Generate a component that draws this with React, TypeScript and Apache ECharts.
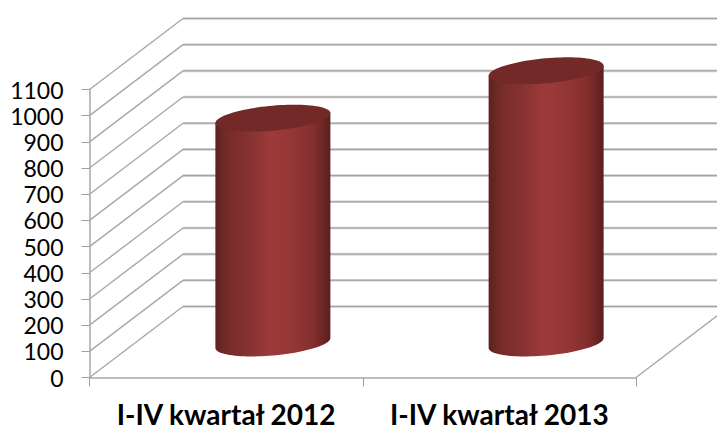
import React, { useEffect, useRef } from "react";
import * as echarts from "echarts";

const categories = ["I-IV kwartał 2012", "I-IV kwartał 2013"];
const values = [855, 1036];
const gridTicks = [0, 100, 200, 300, 400, 500, 600, 700, 800, 900, 1000, 1100];

const DEPTH_X = 93.5;
const DEPTH_Y = -71;
const RADIUS_X = 57.5;
const TILT = 5;
const RADIUS_Y = 12.5;

const ellipseArc = (cx: number, cy: number, from: number, to: number, steps = 48) => {
  const pts: number[][] = [];
  for (let i = 0; i <= steps; i++) {
    const t = from + ((to - from) * i) / steps;
    pts.push([cx + RADIUS_X * Math.cos(t), cy - TILT * Math.cos(t) + RADIUS_Y * Math.sin(t)]);
  }
  return pts;
};

export default function App() {
  const ref = useRef<HTMLDivElement>(null);
  useEffect(() => {
    document.body.style.margin = "0";
    const chart = echarts.init(ref.current!, null, { renderer: "svg" });
    chart.setOption({
      animation: false,
      backgroundColor: "#ffffff",
      grid: { left: 89.5, top: 89.5, width: 546.5, height: 288, outerBoundsMode: "none", containLabel: false },
      xAxis: {
        type: "category",
        data: categories,
        axisLine: { lineStyle: { color: "#bdbdbd", width: 2 } },
        axisTick: { show: true, length: 9, alignWithLabel: false, lineStyle: { color: "#a0a0a0", width: 1 } },
        axisLabel: {
          color: "#000000",
          fontFamily: "Lato",
          fontWeight: "bold",
          fontSize: 28,
          lineHeight: 20,
          margin: 26,
          interval: 0,
        },
        splitLine: { show: false },
      },
      yAxis: {
        type: "value",
        min: 0,
        max: 1100,
        interval: 100,
        axisLine: { show: true, lineStyle: { color: "#bdbdbd", width: 2 } },
        axisTick: { show: true, length: 8, lineStyle: { color: "#a0a0a0", width: 1 } },
        axisLabel: {
          color: "#000000",
          fontFamily: "Lato",
          fontSize: 23,
          margin: 26,
          padding: [4, 0, 0, 0],
          formatter: (v: number) => String(v),
        },
        splitLine: { show: false },
      },
      series: [
        {
          type: "custom",
          z: 1,
          silent: true,
          data: gridTicks.map((v) => [0, v]),
          renderItem: (params: any, api: any) => {
            const y = api.coord([0, api.value(1)])[1];
            const x0 = params.coordSys.x;
            const x1 = x0 + params.coordSys.width;
            const children: any[] = [
              {
                type: "line",
                shape: { x1: x0 + DEPTH_X, y1: y + DEPTH_Y, x2: x1 + DEPTH_X, y2: y + DEPTH_Y },
                style: { stroke: "#d0d0d0", lineWidth: 2.6 },
              },
              {
                type: "line",
                shape: { x1: x0 + DEPTH_X, y1: y + DEPTH_Y, x2: x1 + DEPTH_X, y2: y + DEPTH_Y },
                style: { stroke: "#a0a0a0", lineWidth: 1 },
              },
              {
                type: "line",
                shape: { x1: x0, y1: y, x2: x0 + DEPTH_X, y2: y + DEPTH_Y },
                style: { stroke: "#a8a8a8", lineWidth: 1.4 },
              },
            ];
            if (api.value(1) === 0) {
              children.push({
                type: "line",
                shape: { x1: x1, y1: y, x2: x1 + DEPTH_X, y2: y + DEPTH_Y },
                style: { stroke: "#a8a8a8", lineWidth: 1.4 },
              });
            }
            return { type: "group", children };
          },
        },
        {
          type: "custom",
          z: 2,
          silent: true,
          data: categories.map((c, i) => [i, values[i]]),
          renderItem: (_params: any, api: any) => {
            const [fx, fTop] = api.coord([api.value(0), api.value(1)]);
            const fBase = api.coord([api.value(0), 0])[1];
            const cx = fx + DEPTH_X / 2;
            const top = fTop + DEPTH_Y / 2;
            const base = fBase + DEPTH_Y / 2 + 1;
            const body = [
              [cx - RADIUS_X, top + TILT],
              ...ellipseArc(cx, base, Math.PI, 0),
              [cx + RADIUS_X, top - TILT],
            ];
            return {
              type: "group",
              children: [
                {
                  type: "polygon",
                  shape: { points: body },
                  style: {
                    fill: new echarts.graphic.LinearGradient(0, 0, 1, 0, [
                      { offset: 0, color: "#5c2120" },
                      { offset: 0.1, color: "#752b2a" },
                      { offset: 0.3, color: "#873231" },
                      { offset: 0.47, color: "#9c3a3a" },
                      { offset: 0.65, color: "#953736" },
                      { offset: 0.85, color: "#842f2e" },
                      { offset: 1, color: "#5a1f1f" },
                    ]),
                  },
                },
                {
                  type: "polygon",
                  shape: { points: ellipseArc(cx, top, 0, Math.PI * 2, 96) },
                  style: { fill: "#722928" },
                },
              ],
            };
          },
        },
      ],
    });
    return () => chart.dispose();
  }, []);
  return <div ref={ref} style={{ position: "absolute", left: 0, top: 0, width: 717, height: 430 }} />;
}
